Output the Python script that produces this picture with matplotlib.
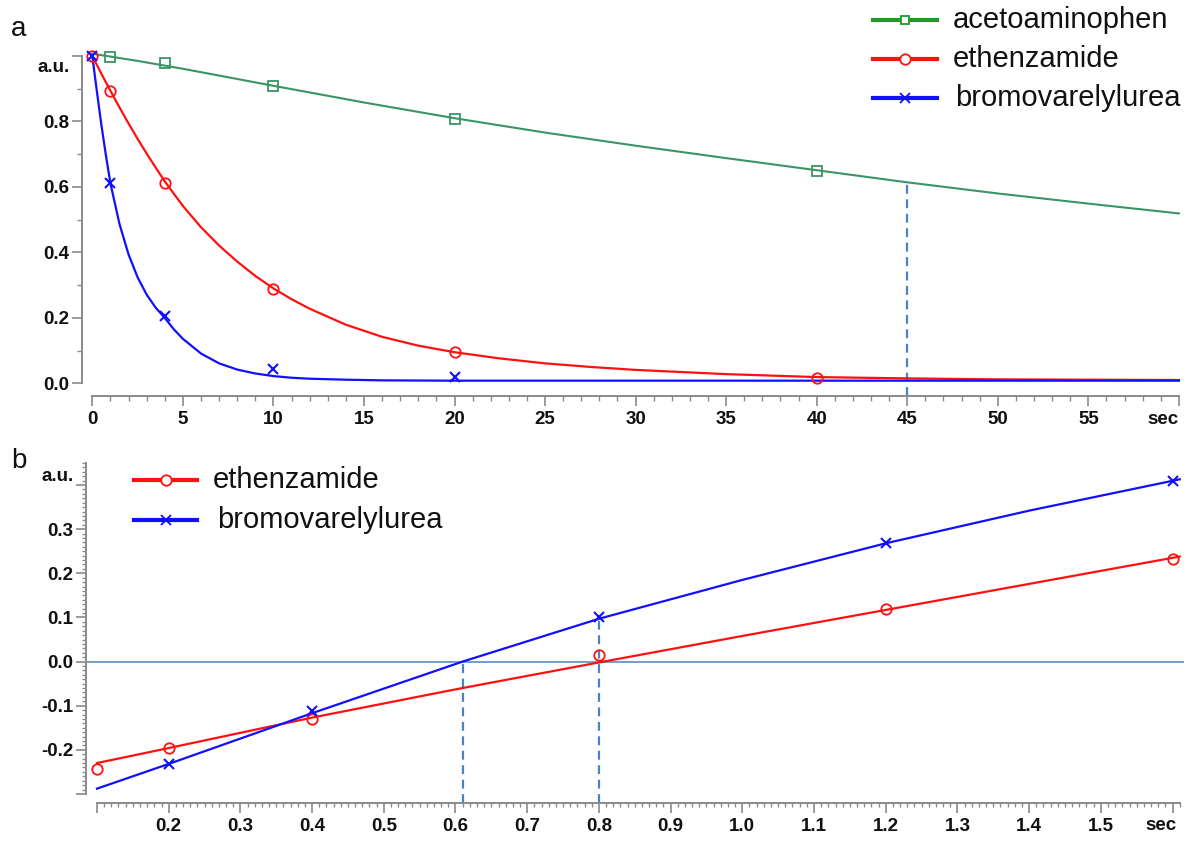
import numpy as np
import matplotlib
matplotlib.use("Agg")
import matplotlib.pyplot as plt
from matplotlib.lines import Line2D

plt.rcParams['font.family'] = ['Liberation Sans', 'DejaVu Sans']

# ---------------- data: panel a ----------------
series_names = ["acetoaminophen", "ethenzamide", "bromovarelylurea"]

a_ace_t = [1, 4, 10, 20, 40]
a_ace_v = [0.998, 0.980, 0.909, 0.807, 0.650]
a_eth_t = [0, 1, 4, 10, 20, 40]
a_eth_v = [1.0, 0.894, 0.611, 0.287, 0.097, 0.015]
a_bro_t = [0, 1, 4, 10, 20]
a_bro_v = [1.0, 0.611, 0.206, 0.043, 0.020]

# fitted curves
a_ace_curve_t = [0, 2.5, 5, 7.5, 10, 15, 20, 25, 30, 35, 40, 45, 50, 55, 60]
a_ace_curve_v = [1.007, 0.985, 0.961, 0.935, 0.909, 0.858, 0.810, 0.766, 0.726,
                 0.688, 0.651, 0.614, 0.580, 0.549, 0.519]
a_eth_curve_t = [0, 0.5, 1, 1.5, 2, 2.5, 3, 3.5, 4, 5, 6, 7, 8, 9, 10, 11, 12, 14,
                 16, 18, 20, 22.5, 25, 27.5, 30, 35, 40, 45, 50, 55, 60]
a_eth_curve_v = [1.0, 0.946, 0.894, 0.843, 0.794, 0.747, 0.702, 0.659, 0.617,
                 0.542, 0.477, 0.421, 0.372, 0.328, 0.290, 0.257, 0.228, 0.179,
                 0.142, 0.115, 0.095, 0.076, 0.061, 0.050, 0.041, 0.028, 0.019,
                 0.015, 0.012, 0.011, 0.010]
a_bro_curve_t = [0, 0.25, 0.5, 0.75, 1.0, 1.5, 2.0, 2.5, 3.0, 3.5, 4.0, 4.5, 5,
                 6, 7, 8, 9, 10, 11, 12, 14, 16, 20, 30, 60]
a_bro_curve_v = [1.0, 0.893, 0.790, 0.697, 0.611, 0.487, 0.394, 0.324, 0.271,
                 0.231, 0.200, 0.165, 0.136, 0.091, 0.061, 0.042, 0.030, 0.022,
                 0.017, 0.014, 0.011, 0.009, 0.008, 0.008, 0.008]
a_guide_t = 45
a_guide_v = 0.613

a_xticks = [0, 5, 10, 15, 20, 25, 30, 35, 40, 45, 50, 55, 60]
a_xlabels = ["0", "5", "10", "15", "20", "25", "30", "35", "40", "45", "50", "55", ""]
a_yticks = [0.0, 0.2, 0.4, 0.6, 0.8, 1.0]
a_ylabels = ["0.0", "0.2", "0.4", "0.6", "0.8", ""]

# ---------------- data: panel b ----------------
b_eth_x = [0.1, 0.2, 0.4, 0.8, 1.2, 1.6]
b_eth_v = [-0.243, -0.196, -0.130, 0.015, 0.120, 0.232]
b_bro_x = [0.2, 0.4, 0.8, 1.2, 1.6]
b_bro_v = [-0.232, -0.112, 0.100, 0.269, 0.409]

b_eth_line_x = [0.1, 0.2, 0.4, 0.6, 0.8, 1.0, 1.2, 1.4, 1.61]
b_eth_line_v = [-0.230, -0.196, -0.127, -0.063, -0.002, 0.058, 0.117, 0.176, 0.238]
b_bro_line_x = [0.1, 0.2, 0.4, 0.61, 0.8, 1.0, 1.2, 1.4, 1.61]
b_bro_line_v = [-0.288, -0.232, -0.117, 0.0, 0.097, 0.185, 0.268, 0.342, 0.413]

b_guides_x = [0.61, 0.8]
b_guides_top = [0.0, 0.100]

b_xticks = [0.1, 0.2, 0.3, 0.4, 0.5, 0.6, 0.7, 0.8, 0.9, 1.0, 1.1, 1.2, 1.3, 1.4, 1.5, 1.6]
b_xlabels = ["", "0.2", "0.3", "0.4", "0.5", "0.6", "0.7", "0.8", "0.9", "1.0",
             "1.1", "1.2", "1.3", "1.4", "1.5", ""]
b_yticks = [-0.3, -0.2, -0.1, 0.0, 0.1, 0.2, 0.3, 0.4]
b_ylabels = ["", "-0.2", "-0.1", "0.0", "0.1", "0.2", "0.3", ""]

# ---------------- styling ----------------
W, H = 1201, 843
C_GREEN = "#3a9463"
C_GREEN_LEG = "#1f9a2a"
C_RED = "#ff1010"
C_BLUE = "#1010ff"
C_GUIDE = "#4a82c4"
C_AXIS = "#8a8a8a"
TICKFS = 13.5
LEGFS = 21

fig = plt.figure(figsize=(W / 100, H / 100), dpi=100)


def fig_axes(l, r, t, b):
    return fig.add_axes([l / W, 1 - b / H, (r - l) / W, (b - t) / H])


def style_axes(ax, xb, yb):
    for s in ("top", "right"):
        ax.spines[s].set_visible(False)
    for s in ("left", "bottom"):
        ax.spines[s].set_color(C_AXIS)
        ax.spines[s].set_linewidth(1.4)
    ax.spines["bottom"].set_bounds(*xb)
    ax.spines["left"].set_bounds(*yb)
    ax.tick_params(which="major", direction="out", length=7, width=1.2,
                   color=C_AXIS, labelcolor="#111111")
    ax.tick_params(which="minor", direction="out", length=3.5, width=1.0, color=C_AXIS)
    ax.tick_params(axis="x", pad=4)
    ax.tick_params(axis="y", pad=2)
    ax.patch.set_visible(False)


# ---------------- panel a ----------------
axa = fig_axes(82, 1180, 56, 396)
axa.set_xlim(-0.569, 60.06)
axa.set_ylim(-0.0388, 1.0)
style_axes(axa, (0, 60), (0, 1.0))
axa.set_xticks(a_xticks, a_xlabels, fontsize=TICKFS, fontweight="bold")
axa.set_xticks(np.arange(0, 61, 1), minor=True)
axa.set_yticks(a_yticks, a_ylabels, fontsize=TICKFS, fontweight="bold")
axa.set_yticks(np.arange(0, 1.01, 0.1), minor=True)

axa.plot([a_guide_t, a_guide_t], [-0.0388, a_guide_v], color=C_GUIDE, lw=1.6,
         ls=(0, (4, 2.5)), clip_on=False, zorder=1)
axa.plot(a_ace_curve_t, a_ace_curve_v, color=C_GREEN, lw=1.5, clip_on=False, zorder=2)
axa.plot(a_eth_curve_t, a_eth_curve_v, color=C_RED, lw=1.6, clip_on=False, zorder=2)
axa.plot(a_bro_curve_t, a_bro_curve_v, color=C_BLUE, lw=1.6, clip_on=False, zorder=2)
axa.plot(a_ace_t, a_ace_v, ls="none", marker="s", ms=6.5, mfc="none", mec=C_GREEN,
         mew=1.3, clip_on=False, zorder=3)
axa.plot(a_eth_t, a_eth_v, ls="none", marker="o", ms=7.5, mfc="none", mec=C_RED,
         mew=1.3, clip_on=False, zorder=3)
axa.plot(a_bro_t, a_bro_v, ls="none", marker="x", ms=7.5, mec=C_BLUE,
         mew=1.5, clip_on=False, zorder=4)

fig.text(70 / W, 1 - 67 / H, "a.u.", ha="right", va="center", fontsize=TICKFS,
         fontweight="bold", color="#111111")
fig.text(1179 / W, 1 - 420 / H, "sec", ha="right", va="center", fontsize=TICKFS,
         fontweight="bold", color="#111111")
fig.text(11 / W, 1 - 36 / H, "a", ha="left", va="baseline", fontsize=20, color="#111111")

# ---------------- panel b ----------------
axb = fig_axes(86, 1184, 463, 803)
axb.set_xlim(0.0847, 1.616)
axb.set_ylim(-0.3205, 0.447)
style_axes(axb, (0.1, 1.61), (-0.3, 0.45))
axb.set_xticks(b_xticks, b_xlabels, fontsize=TICKFS, fontweight="bold")
axb.set_xticks(np.arange(0.1, 1.6101, 0.01), minor=True)
axb.set_yticks(b_yticks, b_ylabels, fontsize=TICKFS, fontweight="bold")
axb.set_yticks(np.arange(-0.3, 0.4501, 0.01), minor=True)
axb.tick_params(which="minor", length=3)

axb.axhline(0.0, color=C_GUIDE, lw=1.1, zorder=1)
for gx, gt in zip(b_guides_x, b_guides_top):
    axb.plot([gx, gx], [-0.3205, gt], color=C_GUIDE, lw=1.6, ls=(0, (4, 2.5)),
             clip_on=False, zorder=1)
axb.plot(b_eth_line_x, b_eth_line_v, color=C_RED, lw=1.6, clip_on=False, zorder=2)
axb.plot(b_bro_line_x, b_bro_line_v, color=C_BLUE, lw=1.6, clip_on=False, zorder=2)
axb.plot(b_eth_x, b_eth_v, ls="none", marker="o", ms=7.5, mfc="none", mec=C_RED,
         mew=1.3, clip_on=False, zorder=3)
axb.plot(b_bro_x, b_bro_v, ls="none", marker="x", ms=7.5, mec=C_BLUE, mew=1.5,
         clip_on=False, zorder=4)

fig.text(74 / W, 1 - 477 / H, "a.u.", ha="right", va="center", fontsize=TICKFS,
         fontweight="bold", color="#111111")
fig.text(1177 / W, 1 - 826 / H, "sec", ha="right", va="center", fontsize=TICKFS,
         fontweight="bold", color="#111111")
fig.text(11 / W, 1 - 468 / H, "b", ha="left", va="baseline", fontsize=20, color="#111111")


# ---------------- legends (drawn manually) ----------------
def legend_row(x0, x1, y, color, marker, ms, label, tx):
    fy = 1 - y / H
    fig.add_artist(Line2D([x0 / W, x1 / W], [fy, fy], transform=fig.transFigure,
                          color=color, lw=3.0))
    kw = dict(mfc="white") if marker != "x" else {}
    fig.add_artist(Line2D([(x0 + x1) / 2 / W], [fy], transform=fig.transFigure,
                          ls="none", marker=marker, ms=ms, mec=color, mew=1.3, **kw))
    fig.text(tx / W, fy, label, ha="left", va="center", fontsize=LEGFS, color="#111111")


legend_row(873, 937, 20, C_GREEN_LEG, "s", 6.0, series_names[0], 953)
legend_row(873, 937, 59, C_RED, "o", 7.5, series_names[1], 953)
legend_row(873, 937, 98, C_BLUE, "x", 7.5, series_names[2], 955)

legend_row(134, 197, 480, C_RED, "o", 7.5, series_names[1], 213)
legend_row(134, 197, 520, C_BLUE, "x", 7.5, series_names[2], 217)

fig.savefig("out.png", dpi=100)
